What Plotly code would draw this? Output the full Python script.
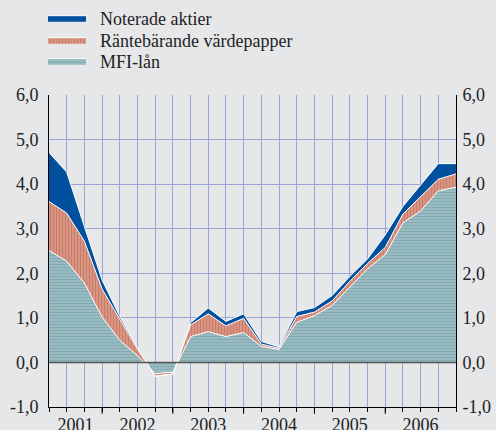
import plotly.graph_objects as go

# Quarterly observations, 2001 .. 2006 (index 0..23)
quarters = list(range(24))
mfi_lan = [2.51, 2.27, 1.78, 1.02, 0.50, 0.15, -0.25, -0.22, 0.58, 0.69, 0.58, 0.67,
           0.36, 0.29, 0.90, 1.05, 1.28, 1.70, 2.10, 2.42, 3.13, 3.40, 3.85, 3.93]
rantebarande = [1.10, 1.08, 0.94, 0.63, 0.47, 0.15, -0.06, -0.04, 0.26, 0.40, 0.24, 0.32,
                0.05, 0.03, 0.13, 0.08, 0.10, 0.12, 0.12, 0.16, 0.20, 0.31, 0.26, 0.30]
noterade = [1.10, 0.92, 0.33, 0.20, 0.06, 0.03, 0.00, 0.00, 0.05, 0.13, 0.10, 0.10,
            0.06, 0.03, 0.11, 0.10, 0.12, 0.11, 0.10, 0.28, 0.17, 0.27, 0.35, 0.23]

years = ["2001", "2002", "2003", "2004", "2005", "2006"]
year_centers = [1.5, 5, 9, 13, 17, 21]
year_bounds = [3, 7, 11, 15, 19]
ytick_vals = [-1, 0, 1, 2, 3, 4, 5, 6]
ytick_text = ["-1,0", "0,0", "1,0", "2,0", "3,0", "4,0", "5,0", "6,0"]

BG = "#e6e7e9"
GRID = "#9aa4d8"
FONT = "Liberation Serif"
TXT = "#222222"
PAD = "\u00a0\u00a0"

fig = go.Figure()
fig.add_trace(go.Scatter(
    x=quarters, y=mfi_lan, name=PAD + "MFI-lån", stackgroup="s", mode="lines",
    line=dict(color="white", width=1),
    fillcolor="#9fbfc5",
    fillpattern=dict(shape="-", bgcolor="#a6c4c9", fgcolor="#5f929c", size=3, solidity=0.6),
    legend="legend3"))
fig.add_trace(go.Scatter(
    x=quarters, y=rantebarande, name=PAD + "Räntebärande värdepapper", stackgroup="s",
    mode="lines", line=dict(color="white", width=1),
    fillcolor="#d8917f",
    fillpattern=dict(shape="|", bgcolor="#de9d8c", fgcolor="#b85a48", size=3, solidity=0.5),
    legend="legend2"))
fig.add_trace(go.Scatter(
    x=quarters, y=noterade, name=PAD + "Noterade aktier", stackgroup="s", mode="lines",
    line=dict(color="white", width=1),
    fillcolor="#00509e",
    legend="legend"))
# invisible companion trace so the mirrored right-hand axis is drawn
fig.add_trace(go.Scatter(
    x=quarters, y=mfi_lan, yaxis="y2", mode="lines", line=dict(width=0),
    opacity=0, showlegend=False, hoverinfo="skip"))

shapes = [dict(type="line", xref="paper", x0=0, x1=1, yref="y", y0=0, y1=0,
               line=dict(color="#555555", width=1.5), layer="above")]
for b in year_bounds:
    shapes.append(dict(type="line", xref="x", x0=b, x1=b, yref="paper", y0=0, y1=-0.022,
                       line=dict(color="black", width=1), layer="above"))

leg_common = dict(xref="container", yref="container", x=43 / 496, xanchor="left",
                  yanchor="middle", bgcolor="rgba(0,0,0,0)",
                  font=dict(family=FONT, size=18, color=TXT), itemwidth=38,
                  borderwidth=0)
fig.update_layout(
    width=496, height=430,
    margin=dict(l=49, r=40, t=95, b=23, autoexpand=False),
    paper_bgcolor=BG, plot_bgcolor=BG,
    font=dict(family=FONT, size=18, color=TXT),
    showlegend=True,
    legend=dict(y=1 - 18 / 430, **leg_common),
    legend2=dict(y=1 - 40 / 430, **leg_common),
    legend3=dict(y=1 - 61 / 430, **leg_common),
    xaxis=dict(range=[0, 23], tickvals=year_centers, ticktext=years, ticks="",
               showgrid=False, zeroline=False, showline=True, linecolor="black", linewidth=1,
               ticklabelstandoff=1, automargin=False,
               minor=dict(tick0=0, dtick=1, showgrid=True, gridcolor=GRID, gridwidth=1,
                          ticks="outside", ticklen=4, tickcolor="black")),
    yaxis=dict(range=[-1, 6], tickvals=ytick_vals, ticktext=ytick_text, ticks="",
               showgrid=True, gridcolor=GRID, gridwidth=1, zeroline=False, automargin=False,
               showline=True, linecolor="black", linewidth=1, ticklabelstandoff=6),
    yaxis2=dict(range=[-1, 6], overlaying="y", side="right", tickvals=ytick_vals,
                ticktext=ytick_text, ticks="", showgrid=False, zeroline=False, automargin=False,
                showline=True, linecolor="black", linewidth=1, ticklabelstandoff=2),
    shapes=shapes,
)
fig.write_html("out.html", config={"displayModeBar": False},
               post_script="document.body.style.margin='0';")
